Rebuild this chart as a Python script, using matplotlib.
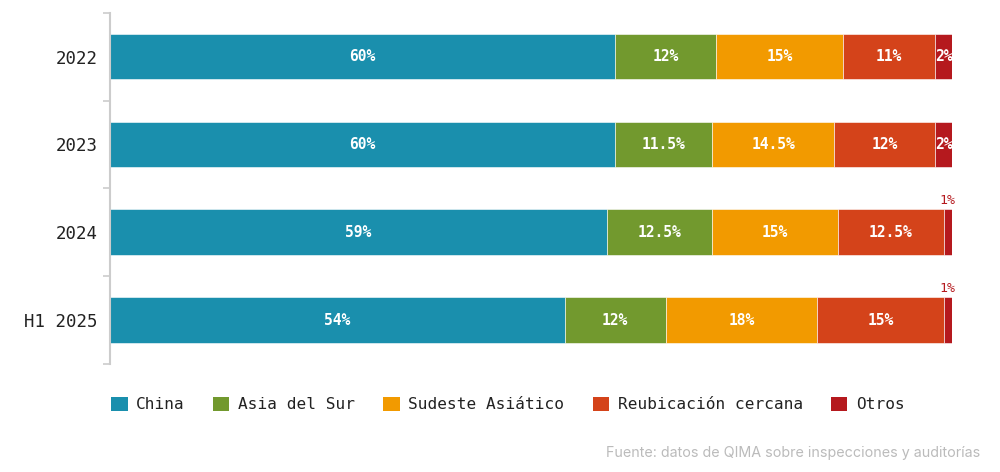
import matplotlib
matplotlib.use("Agg")
import matplotlib.pyplot as plt
import matplotlib.patches as mpatches
import numpy as np

# datos
periods = ["2022", "2023", "2024", "H1 2025"]
regions = ["China", "Asia del Sur", "Sudeste Asiático", "Reubicación cercana", "Otros"]
china = [60, 60, 59, 54]
asia_sur = [12, 11.5, 12.5, 12]
sudeste = [15, 14.5, 15, 18]
reubicacion = [11, 12, 12.5, 15]
otros = [2, 2, 1, 1]
colors = ["#1A8FAD", "#72992E", "#F29A00", "#D4431A", "#B5191E"]
source = "Fuente: datos de QIMA sobre inspecciones y auditorías"

MONO = "DejaVu Sans Mono"


def fmt(v):
    return f"{v:g}%"


fig = plt.figure(figsize=(10, 4.72), dpi=100)
ax = fig.add_axes([0.11, 0.229, 0.842, 0.744])

series = [china, asia_sur, sudeste, reubicacion, otros]
y = np.arange(len(periods))
left = np.zeros(len(periods))
for vals, col, name in zip(series, colors, regions):
    vals = np.array(vals, dtype=float)
    ax.barh(y, vals, left=left, height=0.52, color=col, label=name,
            edgecolor="white", linewidth=0.4)
    for i, v in enumerate(vals):
        cx = left[i] + v / 2
        if v >= 2:
            ax.text(cx, y[i], fmt(v), ha="center", va="center", color="white",
                    fontsize=10.5, fontweight="bold", family=MONO)
        else:
            ax.text(cx, y[i] - 0.29, fmt(v), ha="center", va="bottom",
                    color="#B5191E", fontsize=9.5, family=MONO)
    left += vals

ax.set_xlim(0, 100)
ax.set_ylim(len(periods) - 0.5, -0.5)
ax.set_xticks([])
ax.set_yticks(y)
ax.set_yticklabels(periods, family=MONO, fontsize=12.5, color="#222222")
ax.tick_params(axis="y", which="major", length=0, pad=9)
ax.set_yticks(np.arange(-0.5, len(periods)), minor=True)
ax.tick_params(axis="y", which="minor", length=5, color="#CCCCCC", width=1.2)
for s in ["top", "right", "bottom"]:
    ax.spines[s].set_visible(False)
ax.spines["left"].set_color("#CCCCCC")
ax.spines["left"].set_linewidth(1.5)

handles = [mpatches.Patch(facecolor=c, edgecolor="none", label=r)
           for c, r in zip(colors, regions)]
leg = ax.legend(handles=handles, loc="upper left", bbox_to_anchor=(-0.006, -0.075),
                ncol=5, frameon=False, handlelength=1.0, handleheight=1.0,
                handletextpad=0.55, columnspacing=1.75, borderaxespad=0,
                prop={"family": MONO, "size": 11.6})
for t in leg.get_texts():
    t.set_color("#222222")

fig.text(0.98, 0.04, source, ha="right", va="center", color="#BBBBBB",
         fontsize=10.3, family="Inter")

fig.savefig("out.png", dpi=100, facecolor="white")
plt.close(fig)
